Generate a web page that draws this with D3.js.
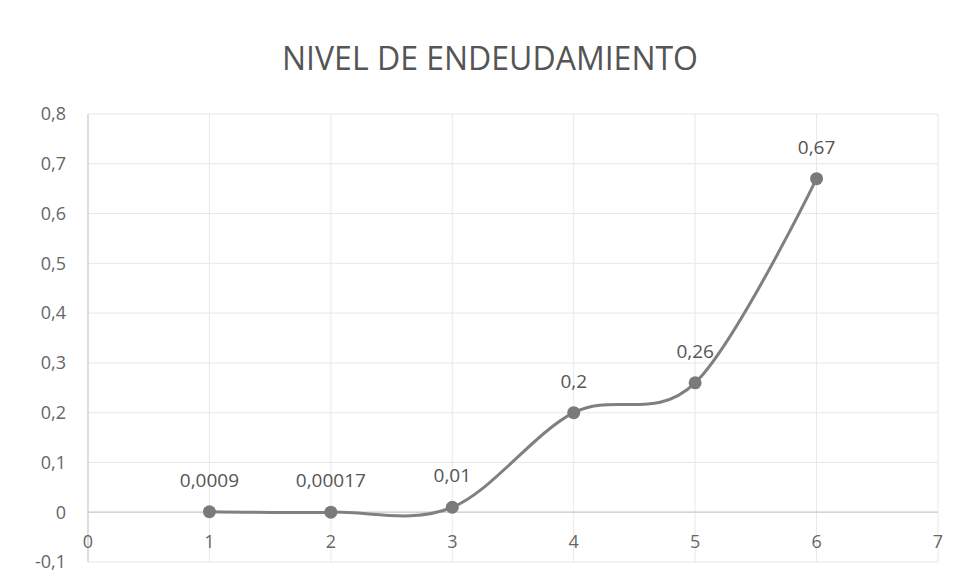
<!DOCTYPE html>
<html><head><meta charset="utf-8">
<script src="https://cdn.jsdelivr.net/npm/d3@7"></script>
<style>body{margin:0;background:#fff}svg{display:block}</style>
</head><body>
<svg id="c" width="959" height="581"></svg>
<script>
const title = "NIVEL DE ENDEUDAMIENTO";
const xValues = [1, 2, 3, 4, 5, 6];
const yValues = [0.0009, 0.00017, 0.01, 0.2, 0.26, 0.67];
const dataLabels = ["0,0009", "0,00017", "0,01", "0,2", "0,26", "0,67"];
const xTicks = [0, 1, 2, 3, 4, 5, 6, 7];
const yTicks = [-0.1, 0, 0.1, 0.2, 0.3, 0.4, 0.5, 0.6, 0.7, 0.8];

const svg = d3.select("#c");
const font = "'Open Sans', 'Liberation Sans', sans-serif";
const x = d3.scaleLinear().domain([0, 7]).range([88, 938]);
const y = d3.scaleLinear().domain([-0.1, 0.8]).range([562, 114]);
const fmt = v => String(Math.round(v*10)/10).replace(".", ",");

// grid
svg.append("g").selectAll("line").data(yTicks).join("line")
  .attr("x1", x(0)).attr("x2", x(7)).attr("y1", d => y(d)).attr("y2", d => y(d))
  .attr("stroke", "#e8e8e8").attr("stroke-width", 1);
svg.append("g").selectAll("line").data(xTicks.slice(1)).join("line")
  .attr("x1", d => x(d)).attr("x2", d => x(d)).attr("y1", y(0.8)).attr("y2", y(-0.1))
  .attr("stroke", "#e8e8e8").attr("stroke-width", 1);

// axes lines
svg.append("line").attr("x1", x(0)).attr("x2", x(0)).attr("y1", y(0.8)).attr("y2", y(-0.1))
  .attr("stroke", "#cccccc").attr("stroke-width", 1.3);
svg.append("line").attr("x1", x(0)).attr("x2", x(7)).attr("y1", y(0)).attr("y2", y(0))
  .attr("stroke", "#cccccc").attr("stroke-width", 1.3);

// y tick labels
svg.append("g").selectAll("text").data(yTicks).join("text")
  .attr("x", 66).attr("y", d => y(d)).attr("dy", "0.35em")
  .attr("text-anchor", "end").attr("font-family", font).attr("font-size", 18)
  .attr("fill", "#666").text(d => fmt(d));

// x tick labels
svg.append("g").selectAll("text").data(xTicks).join("text")
  .attr("x", d => x(d)).attr("y", y(0) + 36)
  .attr("text-anchor", "middle").attr("font-family", font).attr("font-size", 18)
  .attr("fill", "#666").text(d => d);

// title
svg.append("text").attr("x", 490).attr("y", 70).attr("text-anchor", "middle")
  .attr("font-family", font).attr("font-size", 32).attr("fill", "#555").text(title);

const pts = xValues.map((v, i) => [v, yValues[i]]);
const line = d3.line().x(d => x(d[0])).y(d => y(d[1])).curve(d3.curveCardinal.tension(0));
svg.append("path").attr("d", line(pts)).attr("fill", "none")
  .attr("stroke", "#808080").attr("stroke-width", 3);

svg.append("g").selectAll("circle").data(pts).join("circle")
  .attr("cx", d => x(d[0])).attr("cy", d => y(d[1])).attr("r", 6.5)
  .attr("fill", "#7a7a7a");

svg.append("g").selectAll("text").data(pts).join("text")
  .attr("x", d => x(d[0])).attr("y", d => y(d[1]) - 25)
  .attr("text-anchor", "middle").attr("font-family", font).attr("font-size", 19)
  .attr("fill", "#555").text((d, i) => dataLabels[i]);
</script>
</body></html>
